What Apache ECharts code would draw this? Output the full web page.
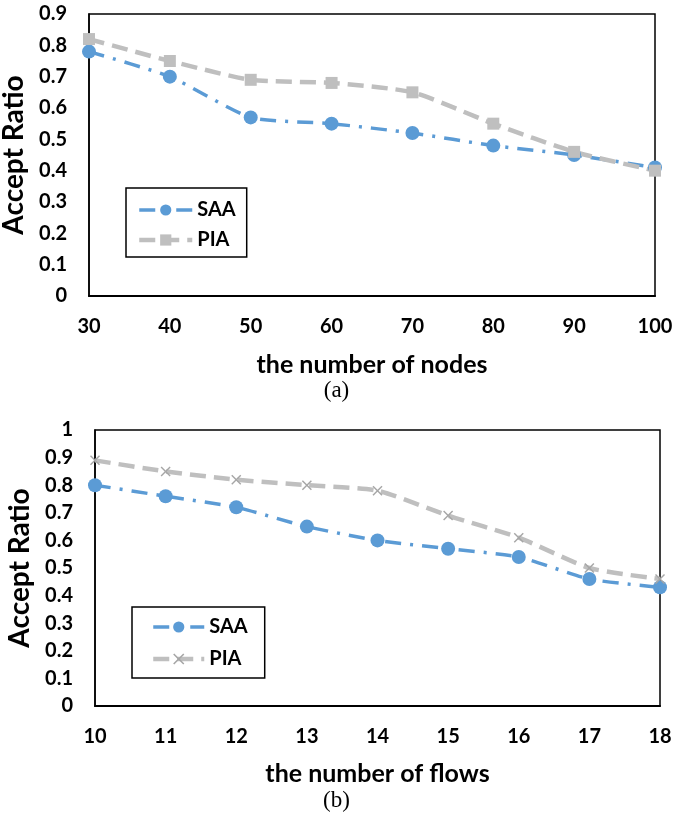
<!DOCTYPE html>
<html>
<head>
<meta charset="utf-8">
<script src="https://cdn.jsdelivr.net/npm/echarts@6/dist/echarts.min.js"></script>
<style>
  html, body { margin: 0; padding: 0; background: #fff; }
  #chart { width: 673px; height: 819px; }
</style>
</head>
<body>
<div id="chart"></div>
<script>
// chart (a)
var nodes = ['30', '40', '50', '60', '70', '80', '90', '100'];
var saaNodes = [0.78, 0.70, 0.57, 0.55, 0.52, 0.48, 0.45, 0.41];
var piaNodes = [0.82, 0.75, 0.69, 0.68, 0.65, 0.55, 0.46, 0.40];
// chart (b)
var flows = ['10', '11', '12', '13', '14', '15', '16', '17', '18'];
var saaFlows = [0.80, 0.76, 0.72, 0.65, 0.60, 0.57, 0.54, 0.46, 0.43];
var piaFlows = [0.89, 0.85, 0.82, 0.80, 0.78, 0.69, 0.61, 0.50, 0.46];

var BLUE = '#5B9BD5', GREY = '#BFBFBF';
var FONT = 'Lato';
var crossPath = 'path://M0,1 L1,0 L5,4 L9,0 L10,1 L6,5 L10,9 L9,10 L5,6 L1,10 L0,9 L4,5 Z';
var saaLine = { color: BLUE, width: 3.5, type: [16, 9, 3, 9] };
var piaLine = { color: GREY, width: 4.5, type: [16, 8] };

var chart = echarts.init(document.getElementById('chart'));

function xAxisOf(idx, cats, title, gap) {
    return {
        type: 'category', gridIndex: idx, data: cats, boundaryGap: false,
        axisLine: { lineStyle: { color: '#000', width: 2 } },
        axisTick: { show: false },
        axisLabel: { color: '#000', fontFamily: FONT, fontWeight: 'bold', fontSize: 20, margin: 21 },
        name: title, nameLocation: 'middle', nameGap: gap,
        nameTextStyle: { color: '#000', fontFamily: FONT, fontWeight: 'bold', fontSize: 25 }
    };
}
function yAxisOf(idx, max) {
    return {
        type: 'value', gridIndex: idx, min: 0, max: max, interval: 0.1,
        axisLine: { show: true, lineStyle: { color: '#000', width: 1.5 } },
        axisTick: { show: false },
        splitLine: { show: false },
        axisLabel: { color: '#000', fontFamily: FONT, fontWeight: 'bold', fontSize: 20, margin: 22,
            formatter: function (v) { return String(Math.round(v * 10) / 10); } },
        name: 'Accept Ratio', nameLocation: 'middle', nameRotate: 90, nameGap: 60,
        nameTextStyle: { color: '#000', fontFamily: FONT, fontWeight: 'bold', fontSize: 28 }
    };
}
function legendOf(left, top, gap, width, pad, names) {
    return {
        left: left, top: top, orient: 'vertical', itemGap: gap, itemWidth: width, itemHeight: 14,
        padding: pad, borderColor: '#000', borderWidth: 1.5,
        textStyle: { color: '#000', fontFamily: FONT, fontWeight: 'bold', fontSize: 20 },
        formatter: function (n) { return n.split(' ')[0]; },
        data: [
            { name: names[0], lineStyle: saaLine },
            { name: names[1], lineStyle: piaLine }
        ]
    };
}
function lineOf(name, idx, data, isSaa, symbol, size, color) {
    return {
        name: name, type: 'line', xAxisIndex: idx, yAxisIndex: idx, data: data, smooth: 0.2,
        symbol: symbol, symbolSize: size, itemStyle: { color: color },
        lineStyle: isSaa ? saaLine : piaLine
    };
}

chart.setOption({
    animation: false,
    grid: [
        { left: 89, right: 18, top: 14, height: 282, show: true, borderColor: '#000', borderWidth: 1.5,
          outerBoundsMode: 'none' },
        { left: 95, right: 13, top: 430, height: 276, show: true, borderColor: '#000', borderWidth: 1.5,
          outerBoundsMode: 'none' }
    ],
    xAxis: [xAxisOf(0, nodes, 'the number of nodes', 56), xAxisOf(1, flows, 'the number of flows', 55)],
    yAxis: [yAxisOf(0, 0.9), yAxisOf(1, 1)],
    legend: [
        legendOf(126, 188, 10, 53, [12, 11, 7, 11], ['SAA', 'PIA']),
        legendOf(132, 607, 12, 51, [10, 17, 9, 19], ['SAA (b)', 'PIA (b)'])
    ],
    series: [
        lineOf('SAA', 0, saaNodes, true, 'circle', 14, BLUE),
        lineOf('PIA', 0, piaNodes, false, 'rect', 12, GREY),
        lineOf('SAA (b)', 1, saaFlows, true, 'circle', 14, BLUE),
        lineOf('PIA (b)', 1, piaFlows, false, crossPath, 10, '#A6A6A6')
    ],
    graphic: [
        { type: 'text', left: 'center', top: 379, style: { text: '(a)', font: '23px "Liberation Serif"', fill: '#000' } },
        { type: 'text', left: 'center', top: 789, style: { text: '(b)', font: '23px "Liberation Serif"', fill: '#000' } }
    ]
});
</script>
</body>
</html>
